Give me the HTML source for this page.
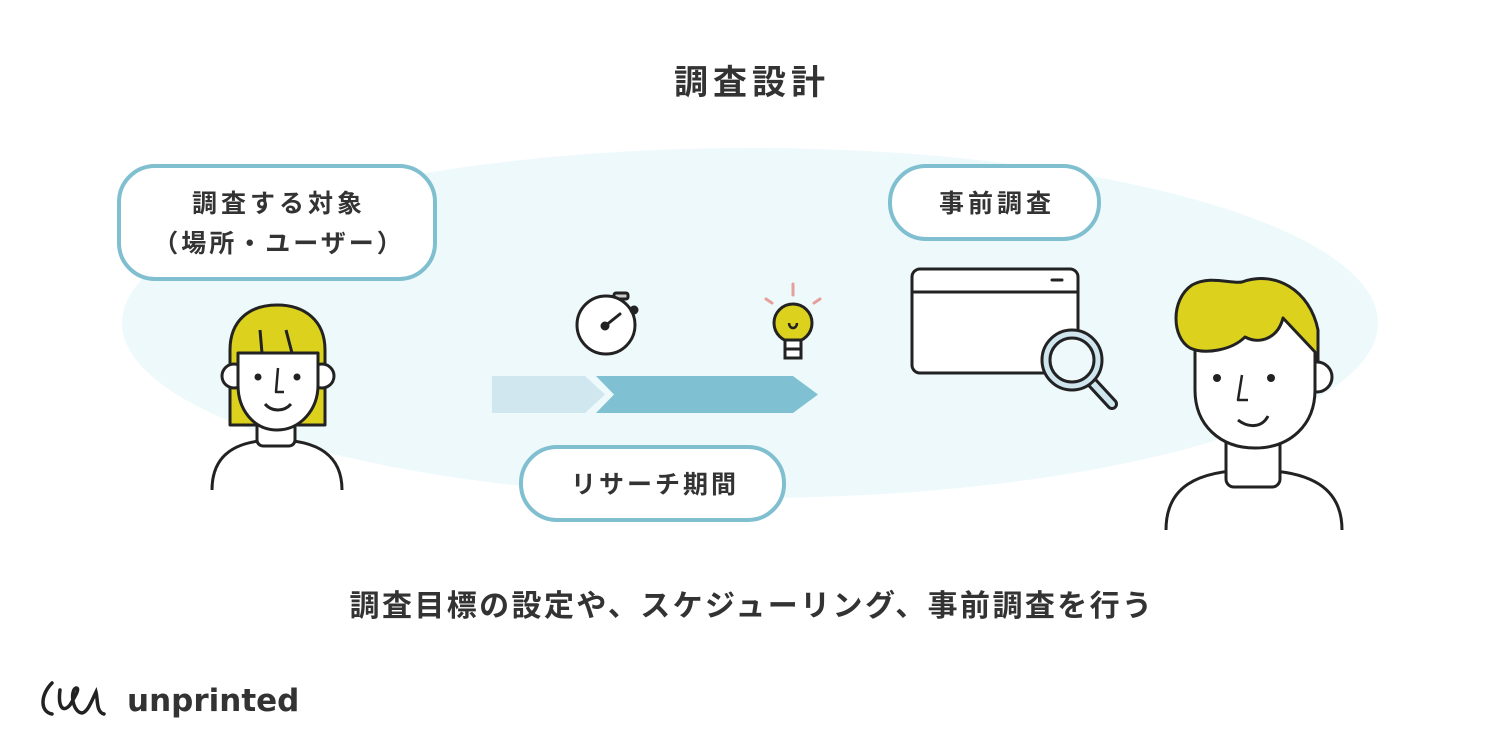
<!DOCTYPE html>
<html><head><meta charset="utf-8"><style>
body{margin:0;background:#fff;}
svg{display:block}
text{font-family:"Liberation Sans","Noto Sans CJK JP",sans-serif;font-weight:bold;fill:#333}
</style></head><body>
<svg width="1500" height="750" viewBox="0 0 1500 750" xmlns="http://www.w3.org/2000/svg">
<ellipse cx="750" cy="323" rx="628" ry="175" fill="#eef9fc"/>
<text x="752" y="94" font-size="34" letter-spacing="5" text-anchor="middle">調査設計</text>

<rect x="119" y="166" width="316" height="113" rx="36" fill="#fff" stroke="#7fbfcf" stroke-width="4"/>
<text x="279" y="212" font-size="25" letter-spacing="4" text-anchor="middle">調査する対象</text>
<text x="279" y="252" font-size="25" letter-spacing="3" text-anchor="middle">（場所・ユーザー）</text>
<rect x="890" y="166" width="209" height="73" rx="36" fill="#fff" stroke="#7fbfcf" stroke-width="4"/>
<text x="997" y="212" font-size="25" letter-spacing="4" text-anchor="middle">事前調査</text>
<rect x="521" y="447" width="263" height="73" rx="36" fill="#fff" stroke="#7fbfcf" stroke-width="4"/>
<text x="655" y="493" font-size="25" letter-spacing="3" text-anchor="middle">リサーチ期間</text>

<polygon points="492,376 585,376 605,394.5 585,413 492,413" fill="#d0e7ef"/>
<polygon points="596,376 793,376 818,394.5 793,413 596,413 614,394.5" fill="#7fc1d2"/>

<g stroke="#222" stroke-width="3" fill="#fff">
<rect x="614" y="293" width="14" height="6" rx="2" fill="#ccc"/>
<circle cx="606" cy="325" r="29"/>
<circle cx="634" cy="310" r="3" fill="#222"/>
<line x1="605" y1="326" x2="620" y2="314" stroke-linecap="round"/>
<circle cx="605" cy="326" r="3" fill="#222"/>
</g>
<g stroke="#e6a09a" stroke-width="3" stroke-linecap="round">
<line x1="793" y1="284" x2="793" y2="295"/><line x1="766" y1="299" x2="772" y2="303"/><line x1="820" y1="299" x2="814" y2="303"/>
</g>
<g stroke="#222" stroke-width="3">
<circle cx="793" cy="323" r="19" fill="#dcd21e"/>
<rect x="785" y="340" width="16" height="18" fill="#fff"/>
<line x1="785" y1="349" x2="801" y2="349"/>
<path d="M789 323a4 5 0 1 0 8 0" fill="none" stroke-width="2.5"/>
</g>

<g stroke="#222" stroke-width="3" fill="#fff">
<rect x="912" y="269" width="166" height="104" rx="8"/>
<line x1="912" y1="292" x2="1078" y2="292"/>
<line x1="1052" y1="280" x2="1062" y2="280" stroke-linecap="round"/>
<line x1="1088" y1="378" x2="1112" y2="404" stroke-width="12" stroke-linecap="round"/>
<line x1="1088" y1="378" x2="1112" y2="404" stroke="#cfe6ef" stroke-width="6" stroke-linecap="round"/>
<circle cx="1072" cy="360" r="30" fill="#cfe6ef"/>
<circle cx="1072" cy="360" r="22" fill="#eef9fc"/>
</g>

<g stroke="#222" stroke-width="3" stroke-linejoin="round">
<path d="M212 490 C212 455 235 440 276 440 C317 440 342 455 342 490" fill="#fff"/>
<rect x="257" y="410" width="38" height="36" rx="6" fill="#fff"/>
<path d="M230 425 L230 350 C230 320 250 305 277 305 C304 305 325 320 325 350 L325 425 Z" fill="#dcd21e"/>
<circle cx="234" cy="376" r="12" fill="#fff"/><circle cx="322" cy="376" r="12" fill="#fff"/>
<path d="M238 353 L318 353 L318 385 C318 410 300 430 277 430 C254 430 238 410 238 385 Z" fill="#fff"/>
<path d="M260 330 L262 353 M286 330 L292 353" fill="none"/>
<path d="M278 368 L276 392 L284 392" fill="none" stroke-width="2.5"/>
<path d="M265 404 C272 412 284 412 291 404" fill="none"/>
</g>
<circle cx="258" cy="377" r="3.5" fill="#222"/><circle cx="297" cy="377" r="3.5" fill="#222"/>

<g stroke="#222" stroke-width="3" stroke-linejoin="round">
<path d="M1166 530 C1166 488 1195 470 1253 470 C1311 470 1342 488 1342 530" fill="#fff"/>
<rect x="1226" y="435" width="54" height="52" rx="8" fill="#fff"/>
<circle cx="1317" cy="377" r="15" fill="#fff"/>
<path d="M1195 320 C1195 300 1220 292 1255 292 C1295 292 1315 305 1315 330 L1315 390 C1315 425 1290 448 1255 448 C1220 448 1195 425 1195 390 Z" fill="#fff"/>
<path d="M1190 348 C1172 338 1170 300 1192 285 C1210 275 1230 284 1242 282 C1275 270 1310 290 1318 330 L1318 362 L1315 362 L1315 352 L1283 318 C1278 338 1260 345 1245 337 C1232 350 1205 355 1190 348 Z" fill="#dcd21e"/>
<path d="M1242 375 L1238 400 L1248 400" fill="none" stroke-width="2.5"/>
<path d="M1238 420 C1248 428 1262 428 1268 416" fill="none"/>
</g>
<circle cx="1217" cy="378" r="4" fill="#222"/><circle cx="1271" cy="378" r="4" fill="#222"/>

<text x="752" y="616" font-size="30" letter-spacing="2.4" text-anchor="middle">調査目標の設定や、スケジューリング、事前調査を行う</text>

<path d="M52 683 C40 695 40 712 52 714 M60 690 C58 705 62 714 70 705 C76 695 80 688 76 688 C70 690 72 712 82 713 C88 712 92 700 96 692 C98 700 96 712 104 714" fill="none" stroke="#222" stroke-width="3.5" stroke-linecap="round"/>
<text x="127" y="711" font-size="31" style="font-weight:600;font-family:'DejaVu Sans',sans-serif">unprinted</text>
</svg>
</body></html>
